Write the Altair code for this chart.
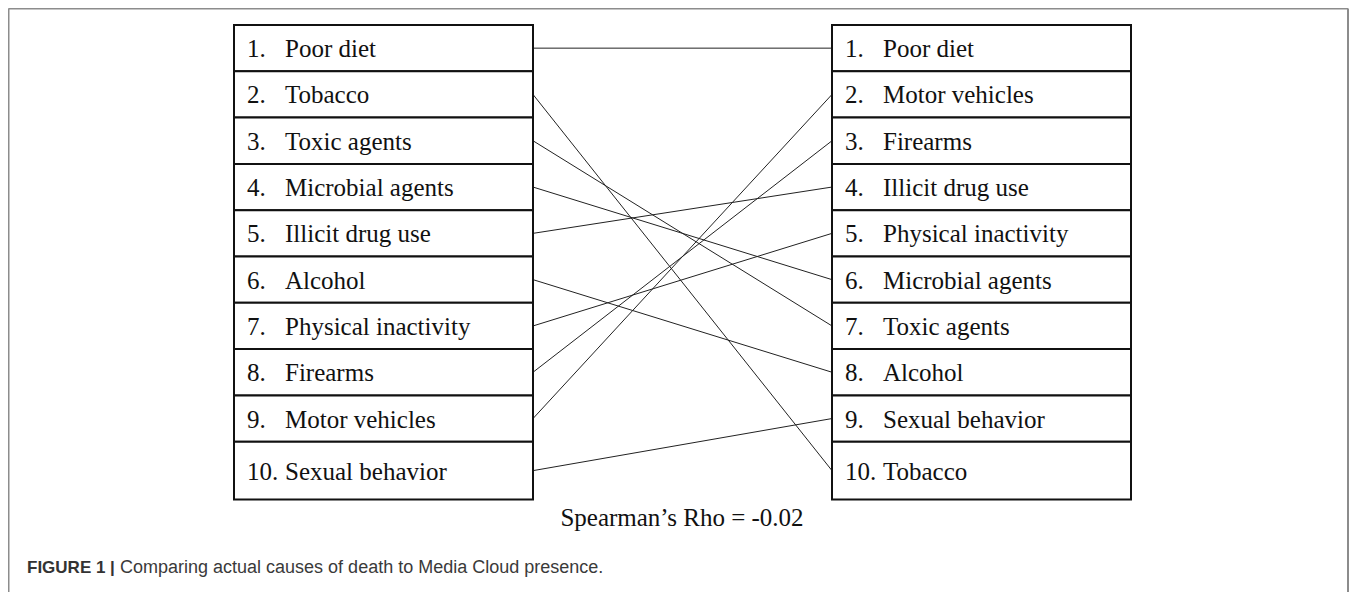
import altair as alt
import pandas as pd

# ---- data ----
ranks = [1, 2, 3, 4, 5, 6, 7, 8, 9, 10]
actual_causes = ["Poor diet", "Tobacco", "Toxic agents", "Microbial agents",
                 "Illicit drug use", "Alcohol", "Physical inactivity",
                 "Firearms", "Motor vehicles", "Sexual behavior"]
media_causes = ["Poor diet", "Motor vehicles", "Firearms", "Illicit drug use",
                "Physical inactivity", "Microbial agents", "Toxic agents",
                "Alcohol", "Sexual behavior", "Tobacco"]
rho_label = "Spearman\u2019s Rho = -0.02"
caption_bold = "FIGURE 1 |"
caption_text = "Comparing actual causes of death to Media Cloud presence."

# ---- layout (page pixels, chart origin at page (8,8)) ----
W, H = 1341, 584
OX, OY = 8, 8
ROW_TOP = 25
ROW_H = 46.3
LAST_ROW_SCALE = 1.25
boxes_x = {"left": (234, 533), "right": (832, 1131)}
FS = 25


def row_top(r):
    return r - 1


def row_bot(r):
    return r if r < 10 else 9 + LAST_ROW_SCALE


def row_mid(r):
    return (row_top(r) + row_bot(r)) / 2


def yu(page_y):
    return (page_y - ROW_TOP) / ROW_H


y_min = yu(OY)
y_max = yu(OY + H)
xsc = alt.Scale(domain=[OX, OX + W], nice=False, zero=False)
ysc = alt.Scale(domain=[y_max, y_min], nice=False, zero=False)

rect_rows, text_rows = [], []
for side, names in (("left", actual_causes), ("right", media_causes)):
    x0, x1 = boxes_x[side]
    for r, n in zip(ranks, names):
        rect_rows.append(dict(xa=x0, xb=x1, ya=row_top(r), yb=row_bot(r)))
        text_rows.append(dict(x=x0 + 13, y=row_mid(r), t=f"{r}."))
        text_rows.append(dict(x=x0 + 51, y=row_mid(r), t=n))
rect_df = pd.DataFrame(rect_rows)
text_df = pd.DataFrame(text_rows)

line_rows = []
for r, n in zip(ranks, actual_causes):
    r2 = ranks[media_causes.index(n)]
    line_rows.append(dict(xa=boxes_x["left"][1], xb=boxes_x["right"][0],
                          ya=row_mid(r), yb=row_mid(r2)))
line_df = pd.DataFrame(line_rows)

FR = 1348
frame_df = pd.DataFrame([
    dict(xa=8.5, xb=FR, ya=yu(8.5), yb=yu(8.5)),
    dict(xa=8.5, xb=8.5, ya=yu(8.5), yb=yu(OY + H)),
    dict(xa=FR, xb=FR, ya=yu(8.5), yb=yu(OY + H)),
])

rho_df = pd.DataFrame([dict(x=682, y=yu(518), t=rho_label)])
cap1_df = pd.DataFrame([dict(x=27, y=yu(568), t=caption_bold)])
cap2_df = pd.DataFrame([dict(x=120, y=yu(568), t=caption_text)])

serif = "Liberation Serif"
X = lambda f: alt.X(f, type="quantitative", scale=xsc, axis=None)
Y = lambda f: alt.Y(f, type="quantitative", scale=ysc, axis=None)

frame_m = alt.Chart(frame_df).mark_rule(color="#8c8c8c", strokeWidth=2).encode(
    x=X("xa"), x2=alt.X2("xb"), y=Y("ya"), y2=alt.Y2("yb"))

lines = alt.Chart(line_df).mark_rule(color="#222222", strokeWidth=1).encode(
    x=X("xa"), x2=alt.X2("xb"), y=Y("ya"), y2=alt.Y2("yb"))

rects = alt.Chart(rect_df).mark_rect(fill="white", stroke="#111111", strokeWidth=2).encode(
    x=X("xa"), x2=alt.X2("xb"), y=Y("ya"), y2=alt.Y2("yb"))

labels = alt.Chart(text_df).mark_text(align="left", baseline="middle", font=serif,
                                      fontSize=FS, color="#111111", dy=1).encode(
    x=X("x"), y=Y("y"), text=alt.Text("t", type="nominal"))

rho = alt.Chart(rho_df).mark_text(align="center", baseline="middle", font=serif,
                                  fontSize=FS, color="#111111").encode(
    x=X("x"), y=Y("y"), text=alt.Text("t", type="nominal"))

cap1 = alt.Chart(cap1_df).mark_text(align="left", baseline="middle", font="Liberation Sans",
                                    fontWeight="bold", fontSize=17, color="#333333").encode(
    x=X("x"), y=Y("y"), text=alt.Text("t", type="nominal"))

cap2 = alt.Chart(cap2_df).mark_text(align="left", baseline="middle", font="Liberation Sans",
                                    fontSize=18, color="#3a3a3a").encode(
    x=X("x"), y=Y("y"), text=alt.Text("t", type="nominal"))

chart = alt.layer(frame_m, lines, rects, labels, rho, cap1, cap2).properties(
    width=W, height=H,
    padding={"left": 0, "top": 0, "right": 0, "bottom": 0},
    autosize=alt.AutoSizeParams(type="none"),
).configure_view(strokeWidth=0)

chart.save("out.html", embed_options={"renderer": "svg", "actions": False})
